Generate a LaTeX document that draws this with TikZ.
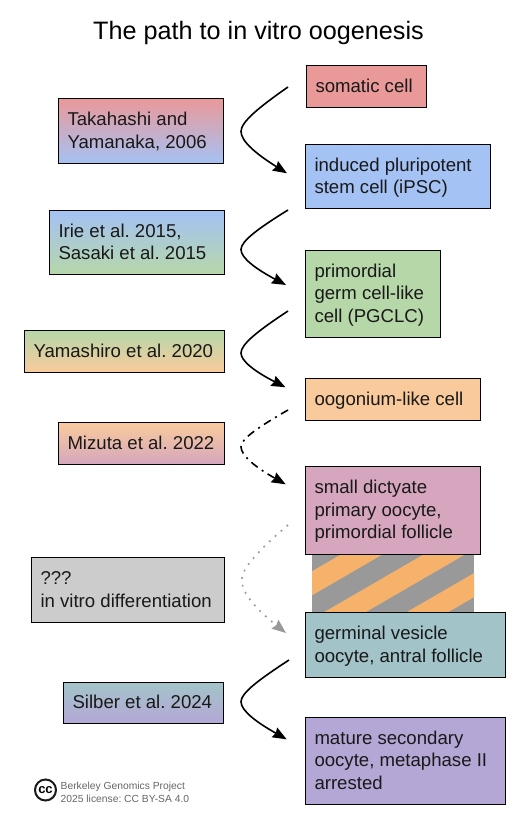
\documentclass[tikz,border=0pt]{standalone}
\usepackage{fontspec}
\setmainfont{Liberation Sans}
\usetikzlibrary{arrows.meta,calc}
\definecolor{cRed}{HTML}{EA9999}
\definecolor{cBlue}{HTML}{A4C2F4}
\definecolor{cGreen}{HTML}{B6D7A8}
\definecolor{cOrange}{HTML}{F9CB9C}
\definecolor{cPink}{HTML}{D5A6BD}
\definecolor{cTeal}{HTML}{A2C4C9}
\definecolor{cPurple}{HTML}{B4A7D6}
\definecolor{cGray}{HTML}{CCCCCC}
\definecolor{cStripeA}{HTML}{F6B26B}
\definecolor{cStripeB}{HTML}{999999}
\definecolor{cFoot}{HTML}{666666}
\tikzset{
  x=1pt,y=-1pt,
  stage/.style={draw=black,line width=1.2pt,inner sep=0pt,
    font=\fontsize{18.6}{22.4}\selectfont,text=black!90},
  headtip/.style={-{Stealth[length=14pt,width=11pt,inset=1.5pt]}},
  curve/.style={line width=1.6pt,black,headtip},
  curvedash/.style={curve,dash pattern=on 8pt off 5pt on 2pt off 5pt},
  curvedot/.style={line width=1.6pt,cStripeB,dash pattern=on 1.8pt off 6pt,headtip},
  titletext/.style={font=\fontsize{25.2}{30}\selectfont,inner sep=0pt},
  foottext/.style={font=\fontsize{10.3}{12.5}\selectfont,text=cFoot,align=left,inner sep=0pt,anchor=west},
  ccring/.style={draw=black!90,line width=2pt,circle,minimum size=21pt,inner sep=0pt,
    font=\fontsize{13}{13}\bfseries\selectfont},
}
\frenchspacing
% name, x1, y1, x2, y2, fill options, text
\newcommand\stagebox[7]{%
  \pgfmathsetmacro\bw{#4-#2}\pgfmathsetmacro\bh{#5-#3}%
  \pgfmathsetmacro\bx{(#2+#4)/2}\pgfmathsetmacro\by{(#3+#5)/2}%
  \node[stage,#6,minimum width=\bw pt,minimum height=\bh pt] (#1) at (\bx,\by)
    {\makebox[\bw pt][l]{\hspace{9pt}\raisebox{-1.4pt}[\height][\depth]{\begin{tabular}{@{}l@{}}#7\end{tabular}}}};}
% index, style, start x,y, apex x,y, end x,y
\newcommand\swoosh[8]{%
  \coordinate (s#1) at (#3,#4);
  \coordinate (a#1) at (#5,#6);
  \coordinate (e#1) at (#7,#8);
  \pgfmathsetmacro\ca{0.47*(#6-#4)}\pgfmathsetmacro\cb{-0.21*(#6-#4)}%
  \pgfmathsetmacro\cc{0.24*(#8-#6)}\pgfmathsetmacro\cd{-0.45*(#8-#6)}%
  \draw[#2] (s#1) .. controls +(-30,\ca) and +(0,\cb) .. (a#1) .. controls +(0,\cc) and +(-30,\cd) .. (e#1);}
\begin{document}
\begin{tikzpicture}
\useasboundingbox (0,0) rectangle (531,834);
\node[titletext] (title) at (258.5,32.7) {The path to in vitro oogenesis};
% stripes
\begin{scope}
  \clip (312,554) rectangle (474,612);
  \fill[cStripeB] (312,554) rectangle (474,612);
  \foreach \k in {-1,0,1,2}{
    \fill[cStripeA] ({341.7+82.6*\k},554) -- ({383.3+82.6*\k},554) -- ({283.3+82.6*\k},612) -- ({241.7+82.6*\k},612) -- cycle;
  }
\end{scope}
% right column
\stagebox{somatic}{306.5}{65.5}{426.5}{107.5}{fill=cRed}{somatic cell}
\stagebox{ipsc}{305.5}{144.5}{490.5}{208.5}{fill=cBlue}{induced pluripotent\\stem cell (iPSC)}
\stagebox{pgclc}{305.5}{250.5}{440.5}{337.5}{fill=cGreen}{primordial\\germ cell-like\\cell (PGCLC)}
\stagebox{oogonium}{305.5}{378.5}{480.5}{420.5}{fill=cOrange}{oogonium-like cell}
\stagebox{dictyate}{305.5}{466.5}{480.5}{554.5}{fill=cPink}{small dictyate\\primary oocyte,\\primordial follicle}
\stagebox{germinal}{305.5}{612.5}{505.5}{677.5}{fill=cTeal}{germinal vesicle\\oocyte, antral follicle}
\stagebox{mature}{305.5}{717.5}{505.5}{804.5}{fill=cPurple}{mature secondary\\oocyte, metaphase II\\arrested}
% left column
\stagebox{takahashi}{58.5}{98.5}{223.5}{163.5}{top color=cRed,bottom color=cBlue}{Takahashi and\\Yamanaka, 2006}
\stagebox{irie}{49.5}{210.5}{224.5}{274.5}{top color=cBlue,bottom color=cGreen}{Irie et al. 2015,\\Sasaki et al. 2015}
\stagebox{yamashiro}{24.5}{330.5}{224.5}{372.5}{top color=cGreen,bottom color=cOrange}{Yamashiro et al. 2020}
\stagebox{mizuta}{58.5}{422.5}{224.5}{464.5}{top color=cOrange,bottom color=cPink}{Mizuta et al. 2022}
\stagebox{vitro}{31.5}{557.5}{224.5}{622.5}{fill=cGray}{???\\in vitro differentiation}
\stagebox{silber}{63.5}{682.5}{223.5}{723.5}{top color=cTeal,bottom color=cPurple}{Silber et al. 2024}
% connectors
\swoosh{1}{curve}{288}{87}{241}{131.5}{287}{173.3}
\swoosh{2}{curve}{288}{210}{241}{249.5}{286}{285}
\swoosh{3}{curve}{288}{311}{241}{353}{285.5}{387.3}
\swoosh{4}{curvedash}{288}{410}{241}{446.7}{285.7}{484.3}
\swoosh{5}{curvedot}{288}{525}{241.7}{580}{286}{633}
\swoosh{6}{curve}{289}{660}{241}{701.7}{286.7}{739.3}
% licence
\node[ccring] (cc) at (45.5,790) {cc};
\node[foottext] (foot) at (60.5,792.3) {Berkeley Genomics Project\\2025 license: CC BY-SA 4.0};
\end{tikzpicture}
\end{document}
